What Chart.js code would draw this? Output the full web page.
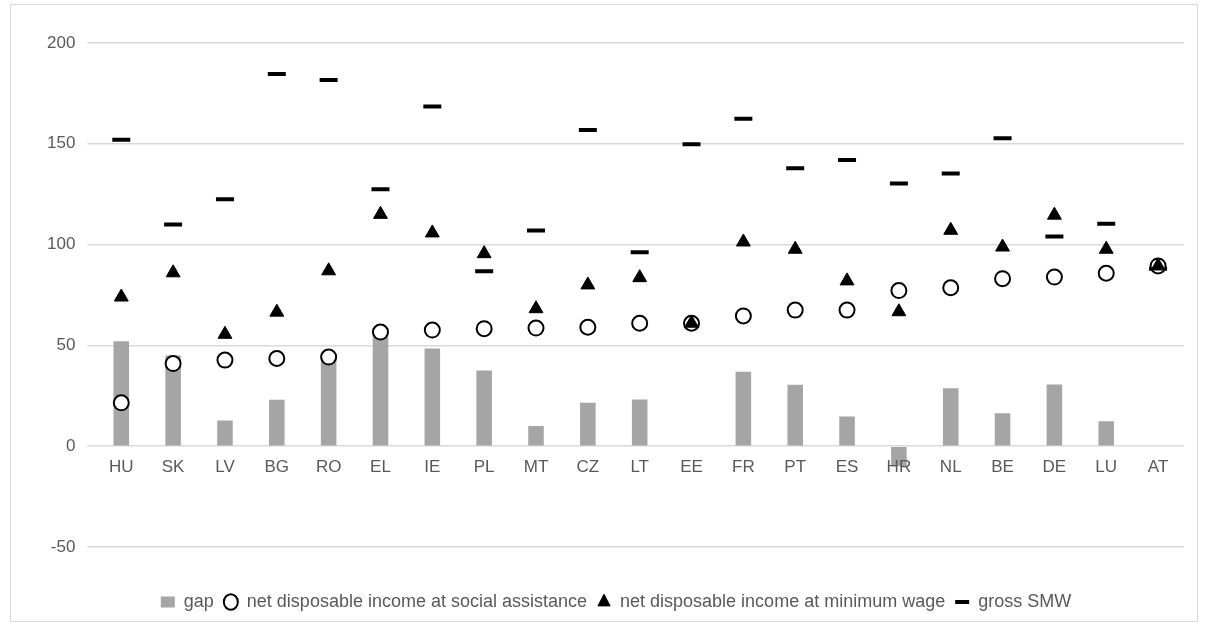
<!DOCTYPE html>
<html>
<head>
<meta charset="utf-8">
<script src="https://cdn.jsdelivr.net/npm/chart.js@4"></script>
<style>
  body { margin: 0; background: #fff; }
  #wrap { position: absolute; left: 10px; top: 4px; width: 1188px; height: 618px; border: 1px solid #d9d9d9; box-sizing: border-box; }
</style>
</head>
<body>
<div id="wrap"><canvas id="chart"></canvas></div>
<script>
// Data
const countries = ['HU', 'SK', 'LV', 'BG', 'RO', 'EL', 'IE', 'PL', 'MT', 'CZ', 'LT',
    'EE', 'FR', 'PT', 'ES', 'HR', 'NL', 'BE', 'DE', 'LU', 'AT'];
const gap = [52, 45, 12.7, 23, 44, 58.8, 48.5, 37.6, 10, 21.5, 23.2,
    0.3, 36.9, 30.5, 14.7, -9.9, 28.8, 16.4, 30.6, 12.4, 0];
const socialAssistance = [21.5, 41, 42.7, 43.5, 44.2, 56.6, 57.6, 58.3, 58.6, 59, 61,
    61, 64.6, 67.5, 67.5, 77.2, 78.6, 83.1, 83.9, 85.8, 89.4];
const minimumWage = [74, 86, 55.5, 66.5, 87, 115, 105.8, 95.5, 68.2, 80, 83.6,
    61, 101.3, 97.7, 82, 66.7, 107.1, 98.8, 114.6, 97.7, 89.4];
const grossSMW = [152, 110, 122.5, 184.6, 181.6, 127.5, 168.5, 86.8, 107, 156.8, 96.2,
    149.8, 162.4, 137.9, 142, 130.3, 135.3, 152.8, 104, 110.3, 88];
const yTicks = [-50, 0, 50, 100, 150, 200];

const FONT = "'Liberation Sans', Arial, sans-serif";
const TEXT = '#595959';

// x labels sit next to the zero line, as in the original
const zeroLabels = {
    id: 'zeroLabels',
    afterDatasetsDraw(chart) {
        const { ctx, scales: { x, y } } = chart;
        ctx.save();
        ctx.font = '17px ' + FONT;
        ctx.fillStyle = TEXT;
        ctx.textAlign = 'center';
        ctx.textBaseline = 'top';
        countries.forEach((c, i) => {
            ctx.fillText(c, x.getPixelForValue(i), y.getPixelForValue(0) + 13);
        });
        ctx.restore();
    }
};

new Chart(document.getElementById('chart'), {
    type: 'bar',
    data: {
        labels: countries,
        datasets: [
            {
                type: 'bar',
                label: 'gap',
                data: gap,
                backgroundColor: '#a5a5a5',
                barPercentage: 0.6,
                categoryPercentage: 0.5,
                pointStyle: 'rect',
                order: 4
            },
            {
                type: 'line',
                label: 'net disposable income at social assistance',
                data: socialAssistance,
                showLine: false,
                pointStyle: 'circle',
                pointRadius: 7.5,
                pointBackgroundColor: '#fff',
                pointBorderColor: '#000',
                pointBorderWidth: 2,
                backgroundColor: '#fff',
                borderColor: '#000',
                order: 2
            },
            {
                type: 'line',
                label: 'net disposable income at minimum wage',
                data: minimumWage,
                showLine: false,
                pointStyle: 'triangle',
                pointRadius: 8,
                pointBackgroundColor: '#000',
                pointBorderColor: '#000',
                pointBorderWidth: 1,
                backgroundColor: '#000',
                borderColor: '#000',
                order: 1
            },
            {
                type: 'line',
                label: 'gross SMW',
                data: grossSMW,
                showLine: false,
                pointStyle: 'line',
                pointRadius: 9,
                pointBorderColor: '#000',
                pointBorderWidth: 4,
                borderColor: '#000',
                borderWidth: 4,
                order: 3
            }
        ]
    },
    options: {
        responsive: true,
        maintainAspectRatio: false,
        animation: false,
        layout: { padding: { left: 24, right: 0, top: 38, bottom: 0 } },
        plugins: {
            legend: {
                position: 'bottom',
                labels: {
                    sort: (a, b) => a.datasetIndex - b.datasetIndex,
                    usePointStyle: true,
                    pointStyleWidth: 14,
                    boxHeight: 11,
                    color: TEXT,
                    font: { size: 18, family: FONT },
                    padding: 10
                }
            },
            tooltip: { enabled: false }
        },
        scales: {
            x: {
                grid: { display: false },
                border: { display: false },
                ticks: { display: false },
                afterFit(scale) { scale.height = 36; }
            },
            y: {
                min: -50,
                max: 200,
                afterBuildTicks(axis) { axis.ticks = yTicks.map(v => ({ value: v })); },
                grid: { color: '#d9d9d9', lineWidth: 1.5 },
                border: { display: false },
                ticks: { color: TEXT, font: { size: 17, family: FONT }, padding: 12 }
            }
        }
    },
    plugins: [zeroLabels]
});
</script>
</body>
</html>
